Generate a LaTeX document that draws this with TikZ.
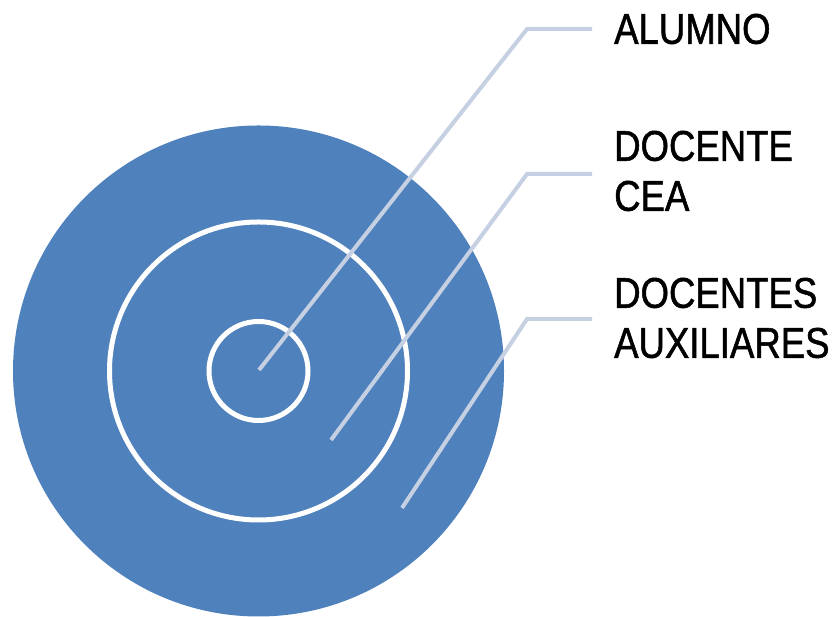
\documentclass[tikz,border=0pt]{standalone}
\usepackage{fontspec}
\setmainfont{Liberation Sans}[FakeStretch=0.85, FakeBold=1.2]
\usepackage{tikz}
\definecolor{ringblue}{HTML}{4F81BD}
\definecolor{leaderblue}{HTML}{C5D0E2}

\begin{document}
\begin{tikzpicture}[
  x=1pt, y=1pt,
  ring/.style={draw=white, line width=5pt},
  leader/.style={draw=leaderblue, line width=4pt, shorten >=22pt},
  lbl/.style={anchor=west, inner sep=0pt, align=left, font=\fontsize{43}{50}\selectfont}]

\useasboundingbox (0,0) rectangle (833,617);

% target
\fill[ringblue] (258.5,246) circle (245.5);
\draw[ring] (258.5,246) circle (149);
\draw[ring] (258.5,246) circle (49.5);

% labels
\node[lbl] (alumno) at (614,588) {ALUMNO};
\node[lbl] (docente) at (614,446) {DOCENTE\\CEA};
\node[lbl] (auxiliar) at (614,299) {DOCENTES\\AUXILIARES};

% leader lines
\coordinate (p1) at (259,247);
\coordinate (p2) at (331,177);
\coordinate (p3) at (402,109);
\coordinate (k1) at (527,588);
\coordinate (k2) at (527,443);
\coordinate (k3) at (527,298);

\draw[leader] (p1) -- (k1) -- (k1 -| alumno.west);
\draw[leader] (p2) -- (k2) -- (k2 -| docente.west);
\draw[leader] (p3) -- (k3) -- (k3 -| auxiliar.west);
\end{tikzpicture}
\end{document}
